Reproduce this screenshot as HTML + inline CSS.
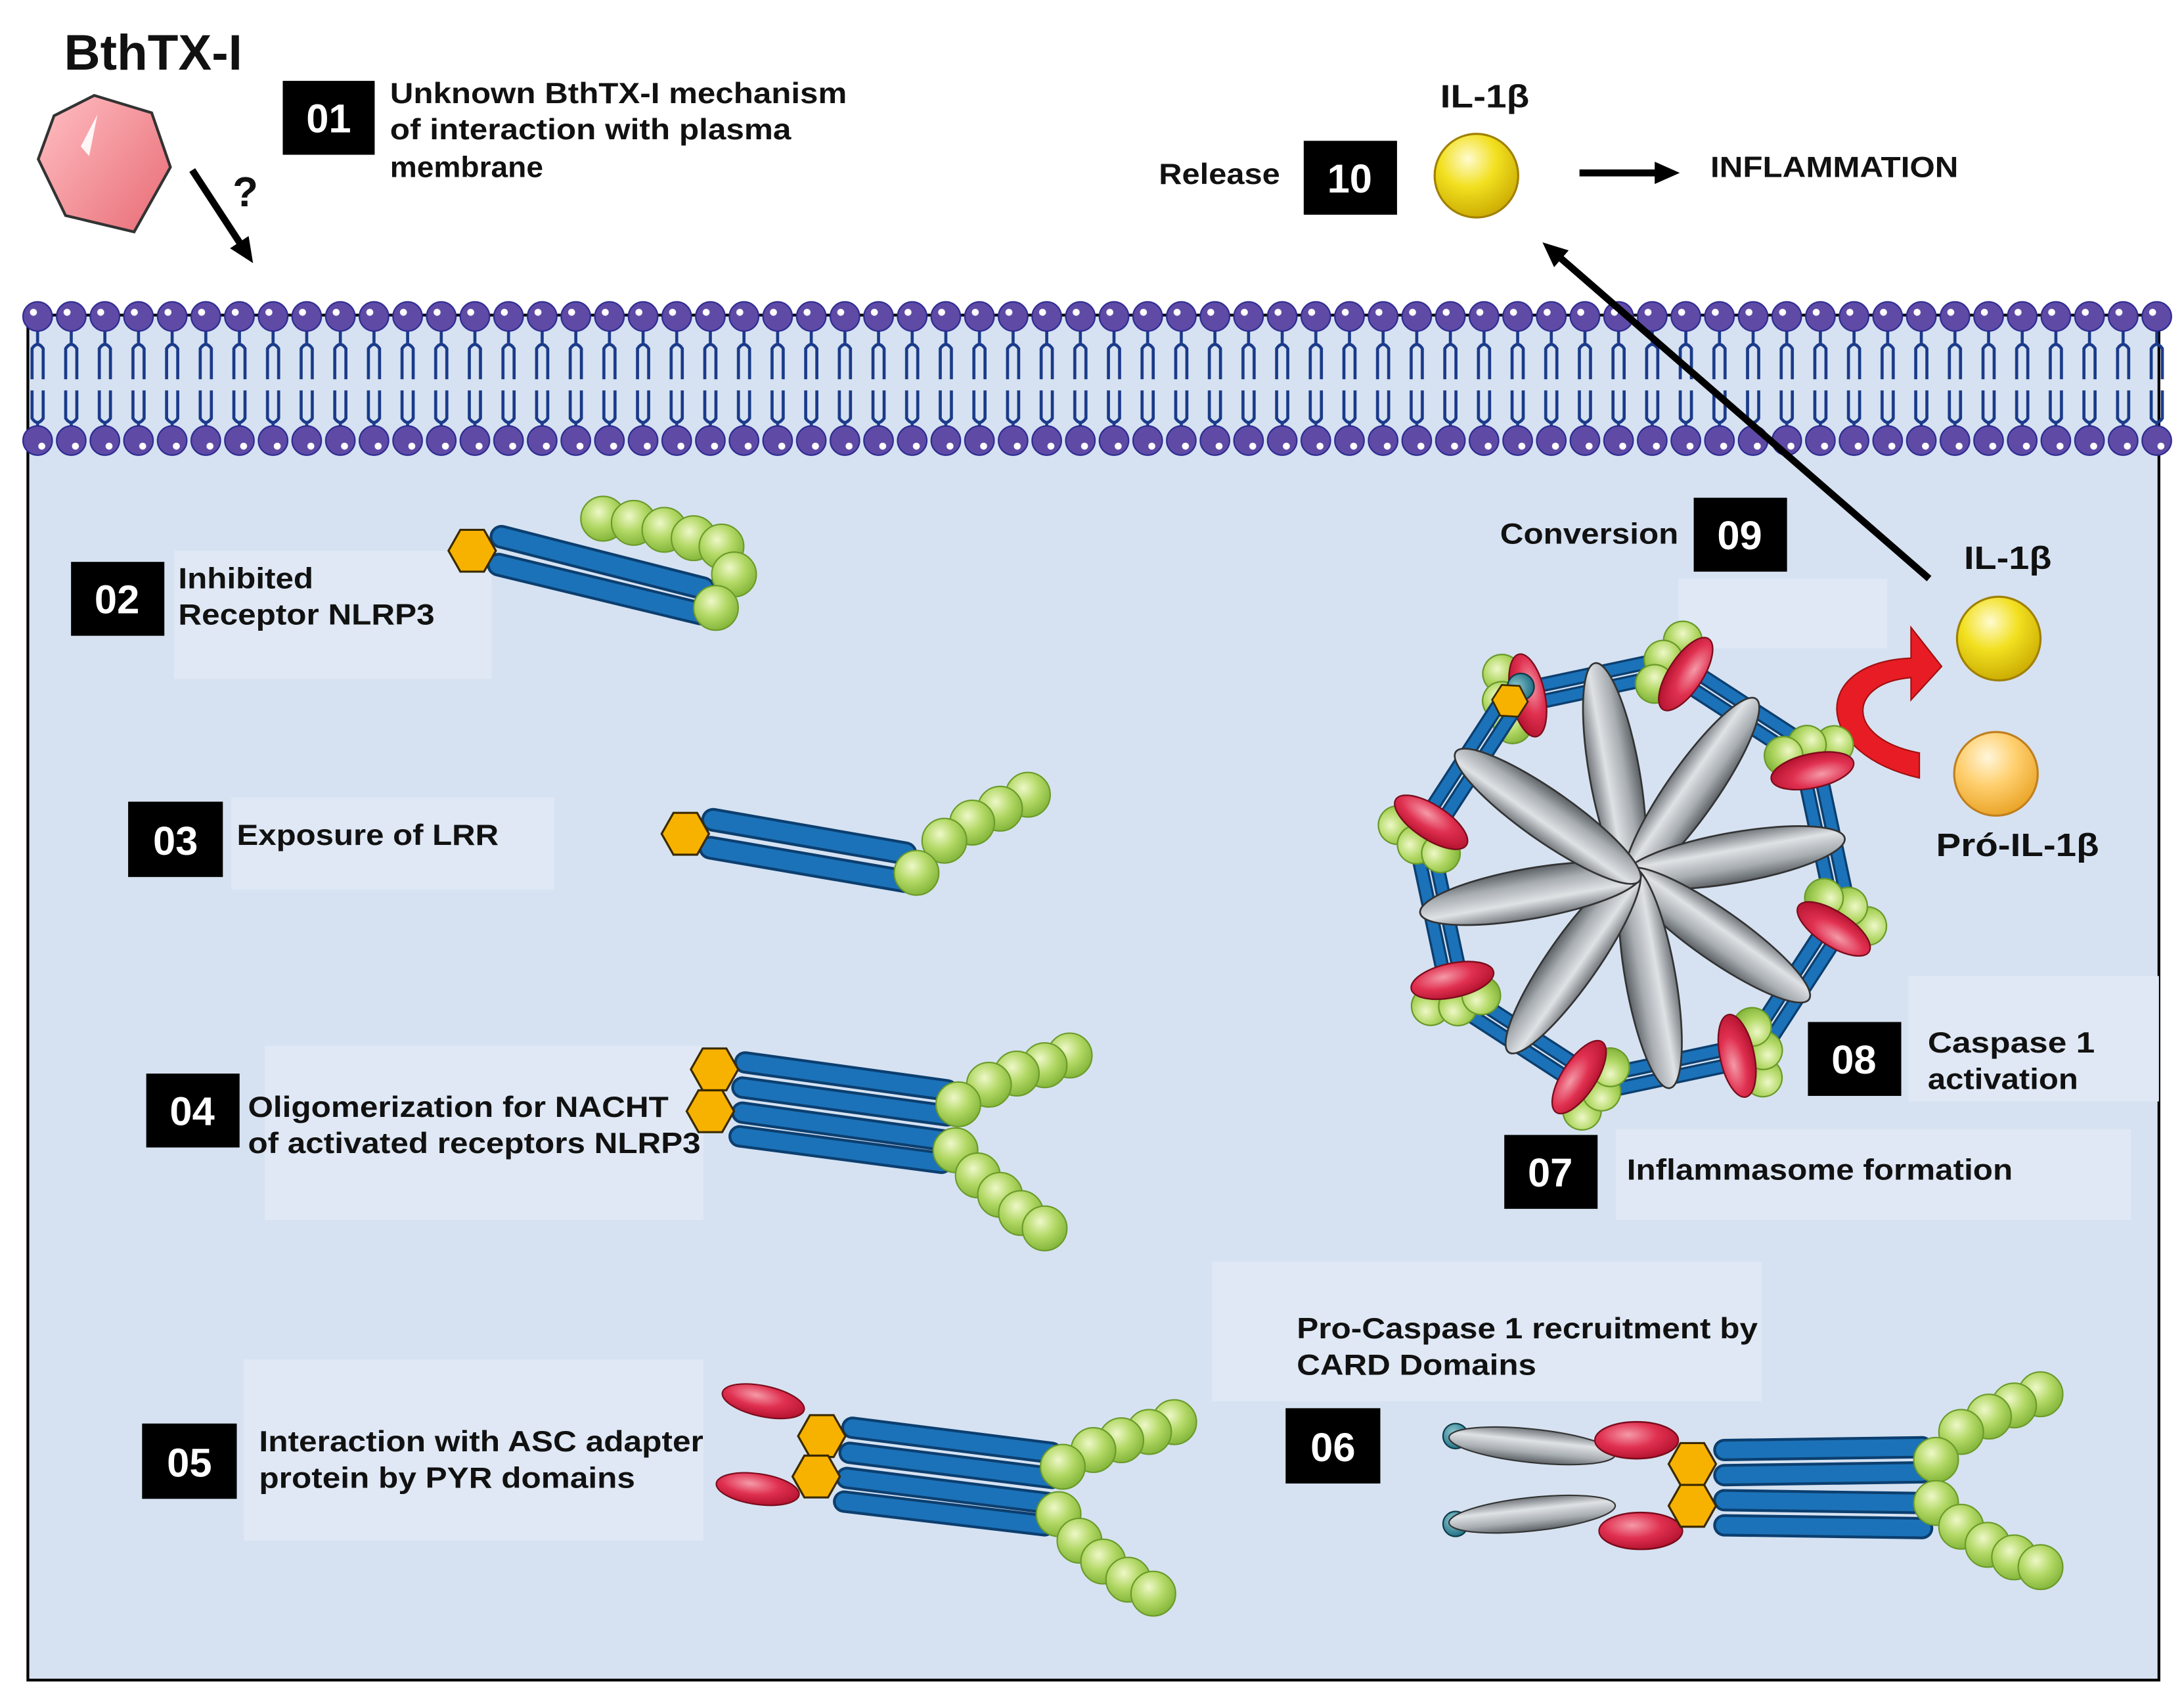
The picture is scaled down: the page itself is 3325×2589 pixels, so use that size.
<!DOCTYPE html>
<html><head><meta charset="utf-8"><style>
html,body{margin:0;padding:0;background:#fff;}
svg{display:block;}
text{font-family:"Liberation Sans",Arial,sans-serif;font-weight:bold;}
</style></head><body>
<svg width="3325" height="2589" viewBox="0 0 1568 1220" preserveAspectRatio="none" xmlns="http://www.w3.org/2000/svg">
<defs>
<radialGradient id="gg" cx="0.4" cy="0.35" r="0.7"><stop offset="0" stop-color="#eef8c8"/><stop offset="0.5" stop-color="#b2d865"/><stop offset="1" stop-color="#7fb236"/></radialGradient>
<radialGradient id="rg" cx="0.4" cy="0.35" r="0.7"><stop offset="0" stop-color="#f49aa8"/><stop offset="0.5" stop-color="#e03050"/><stop offset="1" stop-color="#b0102c"/></radialGradient>
<radialGradient id="yg" cx="0.4" cy="0.3" r="0.75"><stop offset="0" stop-color="#fffbd0"/><stop offset="0.45" stop-color="#f2e020"/><stop offset="1" stop-color="#c8a800"/></radialGradient>
<radialGradient id="og" cx="0.4" cy="0.3" r="0.75"><stop offset="0" stop-color="#fff6dc"/><stop offset="0.45" stop-color="#ffd070"/><stop offset="1" stop-color="#e8a020"/></radialGradient>
<radialGradient id="tg" cx="0.4" cy="0.35" r="0.7"><stop offset="0" stop-color="#8cc8d0"/><stop offset="1" stop-color="#1a6a80"/></radialGradient>
<linearGradient id="greyg" x1="0" y1="0" x2="0" y2="1"><stop offset="0" stop-color="#70757a"/><stop offset="0.35" stop-color="#dfe2e5"/><stop offset="0.7" stop-color="#a8adb2"/><stop offset="1" stop-color="#5a5f64"/></linearGradient>
<linearGradient id="pinkg" x1="0" y1="0" x2="1" y2="1"><stop offset="0" stop-color="#ffc0c4"/><stop offset="1" stop-color="#e86a74"/></linearGradient>
<polygon id="hex" points="-17,0 -8.5,-15 8.5,-15 17,0 8.5,15 -8.5,15" fill="#f7b200" stroke="#3a2a00" stroke-width="1.5"/>
<polygon id="hexs" points="-12,0 -6,-10.5 6,-10.5 12,0 6,10.5 -6,10.5" fill="#f7b200" stroke="#3a2a00" stroke-width="1.2"/>
<circle id="gb" r="16" fill="url(#gg)" stroke="#6a9a2a" stroke-width="1"/>
<circle id="gbs" r="13" fill="url(#gg)" stroke="#6a9a2a" stroke-width="1"/>
<ellipse id="re" rx="30" ry="11" fill="url(#rg)" stroke="#7a0c1c" stroke-width="1"/>
<ellipse id="ge" rx="76" ry="17" fill="url(#greyg)" stroke="#333" stroke-width="1.2"/>
<circle id="tb" r="9" fill="url(#tg)" stroke="#0c3a48" stroke-width="1"/>
<g id="edge">
<g stroke-linecap="round"><line x1="-48" y1="-128" x2="50" y2="-128" stroke="#0c3f70" stroke-width="10"/><line x1="-48" y1="-128" x2="50" y2="-128" stroke="#1b72b8" stroke-width="7"/><line x1="-48" y1="-139" x2="50" y2="-139" stroke="#0c3f70" stroke-width="10"/><line x1="-48" y1="-139" x2="50" y2="-139" stroke="#1b72b8" stroke-width="7"/></g>
<use href="#tb" x="66" y="-133"/><use href="#hexs" x="54" y="-134"/>
<use href="#gbs" x="-58" y="-152"/><use href="#gbs" x="-62" y="-134"/><use href="#gbs" x="-58" y="-117"/>
<use href="#re" transform="translate(-44 -134) rotate(90) scale(0.95 1.05)"/>
</g>
<pattern id="mem" x="15" y="0" width="24.15" height="340" patternUnits="userSpaceOnUse">
<g stroke="#1a3a8a" stroke-width="2.2" fill="none">
<line x1="12" y1="236" x2="12" y2="246"/>
<path d="M8,272 V250 Q12,244 16,250 V272"/>
<path d="M8,280 V300 Q12,306 16,300 V280"/>
<line x1="12" y1="304" x2="12" y2="312"/>
</g>
<circle cx="12" cy="227" r="10.5" fill="#5f4aa6" stroke="#2a2a90" stroke-width="1"/>
<circle cx="9" cy="224" r="2.5" fill="#fff"/>
<circle cx="12" cy="316" r="10.5" fill="#5f4aa6" stroke="#2a2a90" stroke-width="1"/>
<circle cx="15" cy="320" r="2.5" fill="#fff"/>
</pattern>
<marker id="ah" markerWidth="18" markerHeight="16" refX="4" refY="8" orient="auto" markerUnits="userSpaceOnUse"><path d="M0,0 L18,8 L0,16 z" fill="#000"/></marker>
</defs>

<rect x="0" y="0" width="1568" height="1220" fill="#fff"/>
<rect x="20" y="226" width="1530" height="979" fill="#d6e2f1" stroke="#000" stroke-width="2"/>
<rect x="15" y="210" width="1545" height="120" fill="url(#mem)"/>

<g fill="#dfe8f4">
<rect x="125" y="395" width="228" height="92"/>
<rect x="166" y="572" width="232" height="66"/>
<rect x="190" y="750" width="315" height="125"/>
<rect x="175" y="975" width="330" height="130"/>
<rect x="870" y="905" width="395" height="100"/>
<rect x="1160" y="810" width="370" height="65"/>
<rect x="1370" y="700" width="180" height="90"/>
<rect x="1205" y="415" width="150" height="50"/>
</g>

<text x="46" y="50" font-size="36" fill="#111">BthTX-I</text>
<polygon points="72,68 112,84 122,124 92,168 44,152 28,110 42,80" fill="url(#pinkg)" stroke="#333" stroke-width="2" transform="rotate(-5 75 118)"/>
<path d="M58,105 L70,82 L64,112 Z" fill="#fff" opacity="0.9"/>
<line x1="138" y1="122" x2="174" y2="177" stroke="#000" stroke-width="5" marker-end="url(#ah)"/>
<text x="167" y="148" font-size="30" fill="#111">?</text>

<g font-size="21" fill="#111">
<text x="280" y="74" textLength="328" lengthAdjust="spacingAndGlyphs">Unknown BthTX-I mechanism</text>
<text x="280" y="100" textLength="288" lengthAdjust="spacingAndGlyphs">of interaction with plasma</text>
<text x="280" y="127" textLength="110" lengthAdjust="spacingAndGlyphs">membrane</text>
<text x="832" y="132" textLength="87" lengthAdjust="spacingAndGlyphs">Release</text>
<text x="1034" y="77" font-size="23" textLength="64" lengthAdjust="spacingAndGlyphs">IL-1β</text>
<text x="1228" y="127" textLength="178" lengthAdjust="spacingAndGlyphs">INFLAMMATION</text>
<text x="1077" y="390" textLength="128" lengthAdjust="spacingAndGlyphs">Conversion</text>
<text x="1410" y="408" font-size="23" textLength="63" lengthAdjust="spacingAndGlyphs">IL-1β</text>
<text x="1390" y="614" font-size="23" textLength="117" lengthAdjust="spacingAndGlyphs">Pró-IL-1β</text>
<text x="128" y="422" textLength="97" lengthAdjust="spacingAndGlyphs">Inhibited</text>
<text x="128" y="448" textLength="184" lengthAdjust="spacingAndGlyphs">Receptor NLRP3</text>
<text x="170" y="606" textLength="188" lengthAdjust="spacingAndGlyphs">Exposure of LRR</text>
<text x="178" y="801" textLength="302" lengthAdjust="spacingAndGlyphs">Oligomerization for NACHT</text>
<text x="178" y="827" textLength="325" lengthAdjust="spacingAndGlyphs">of activated receptors NLRP3</text>
<text x="186" y="1041" textLength="319" lengthAdjust="spacingAndGlyphs">Interaction with ASC adapter</text>
<text x="186" y="1067" textLength="270" lengthAdjust="spacingAndGlyphs">protein by PYR domains</text>
<text x="931" y="960" textLength="331" lengthAdjust="spacingAndGlyphs">Pro-Caspase 1 recruitment by</text>
<text x="931" y="986" textLength="172" lengthAdjust="spacingAndGlyphs">CARD Domains</text>
<text x="1168" y="846" textLength="277" lengthAdjust="spacingAndGlyphs">Inflammasome formation</text>
<text x="1384" y="755" textLength="120" lengthAdjust="spacingAndGlyphs">Caspase  1</text>
<text x="1384" y="781" textLength="108" lengthAdjust="spacingAndGlyphs">activation</text>
</g>
<g fill="#000">
<rect x="203" y="58" width="66" height="53"/>
<rect x="936" y="101" width="67" height="53"/>
<rect x="1216" y="357" width="67" height="53"/>
<rect x="51" y="403" width="67" height="53"/>
<rect x="92" y="575" width="68" height="54"/>
<rect x="105" y="770" width="67" height="53"/>
<rect x="102" y="1021" width="68" height="54"/>
<rect x="923" y="1010" width="68" height="54"/>
<rect x="1080" y="814" width="67" height="53"/>
<rect x="1298" y="733" width="67" height="53"/>
</g>
<g font-size="29" fill="#fff" text-anchor="middle">
<text x="236" y="95">01</text>
<text x="969" y="138">10</text>
<text x="1249" y="394">09</text>
<text x="84" y="440">02</text>
<text x="126" y="613">03</text>
<text x="138" y="807">04</text>
<text x="136" y="1059">05</text>
<text x="957" y="1048">06</text>
<text x="1113" y="851">07</text>
<text x="1331" y="770">08</text>
</g>

<circle cx="1060" cy="126" r="30" fill="url(#yg)" stroke="#a08000" stroke-width="1.5"/>
<line x1="1134" y1="124" x2="1192" y2="124" stroke="#000" stroke-width="5" marker-end="url(#ah)"/>
<line x1="1385" y1="415" x2="1118" y2="183" stroke="#000" stroke-width="5" marker-end="url(#ah)"/>
<circle cx="1435" cy="458" r="30" fill="url(#yg)" stroke="#a08000" stroke-width="1.5"/>
<circle cx="1433" cy="555" r="30" fill="url(#og)" stroke="#c08020" stroke-width="1.5"/>
<path d="M1378,558 C1300,540 1300,475 1372,472 L1372,450 L1394,478 L1372,502 L1372,486 C1325,490 1325,530 1378,540 Z" fill="#e81c24" stroke="#a01010" stroke-width="1"/>

<!-- 02 -->
<g>
<line x1="360" y1="385" x2="505" y2="422" stroke="#0c3f70" stroke-width="17" stroke-linecap="round"/>
<line x1="360" y1="385" x2="505" y2="422" stroke="#1b72b8" stroke-width="13" stroke-linecap="round"/>
<line x1="358" y1="405" x2="503" y2="440" stroke="#0c3f70" stroke-width="17" stroke-linecap="round"/>
<line x1="358" y1="405" x2="503" y2="440" stroke="#1b72b8" stroke-width="13" stroke-linecap="round"/>
<use href="#gb" x="433" y="372"/><use href="#gb" x="455" y="375"/><use href="#gb" x="477" y="380"/><use href="#gb" x="498" y="386"/><use href="#gb" x="518" y="392"/><use href="#gb" x="527" y="412"/><use href="#gb" x="514" y="436"/>
<use href="#hex" x="339" y="395"/>
</g>

<!-- 03 -->
<g>
<line x1="512" y1="588" x2="650" y2="612" stroke="#0c3f70" stroke-width="17" stroke-linecap="round"/>
<line x1="512" y1="588" x2="650" y2="612" stroke="#1b72b8" stroke-width="13" stroke-linecap="round"/>
<line x1="510" y1="608" x2="650" y2="632" stroke="#0c3f70" stroke-width="17" stroke-linecap="round"/>
<line x1="510" y1="608" x2="650" y2="632" stroke="#1b72b8" stroke-width="13" stroke-linecap="round"/>
<use href="#gb" x="738" y="570"/><use href="#gb" x="718" y="580"/><use href="#gb" x="698" y="590"/><use href="#gb" x="678" y="603"/><use href="#gb" x="658" y="626"/>
<use href="#hex" x="492" y="598"/>
</g>

<!-- 04 -->
<g>
<g stroke-linecap="round">
<line x1="535" y1="762" x2="680" y2="782" stroke="#0c3f70" stroke-width="16"/><line x1="535" y1="762" x2="680" y2="782" stroke="#1b72b8" stroke-width="12"/>
<line x1="533" y1="780" x2="680" y2="800" stroke="#0c3f70" stroke-width="16"/><line x1="533" y1="780" x2="680" y2="800" stroke="#1b72b8" stroke-width="12"/>
<line x1="533" y1="798" x2="678" y2="818" stroke="#0c3f70" stroke-width="16"/><line x1="533" y1="798" x2="678" y2="818" stroke="#1b72b8" stroke-width="12"/>
<line x1="531" y1="815" x2="676" y2="834" stroke="#0c3f70" stroke-width="16"/><line x1="531" y1="815" x2="676" y2="834" stroke="#1b72b8" stroke-width="12"/>
</g>
<use href="#gb" x="768" y="757"/><use href="#gb" x="750" y="764"/><use href="#gb" x="730" y="770"/><use href="#gb" x="710" y="778"/><use href="#gb" x="688" y="792"/>
<use href="#gb" x="686" y="825"/><use href="#gb" x="702" y="843"/><use href="#gb" x="718" y="857"/><use href="#gb" x="733" y="870"/><use href="#gb" x="750" y="881"/>
<use href="#hex" x="513" y="767"/><use href="#hex" x="510" y="797"/>
</g>

<!-- 05 -->
<g>
<g stroke-linecap="round">
<line x1="612" y1="1024" x2="755" y2="1042" stroke="#0c3f70" stroke-width="16"/><line x1="612" y1="1024" x2="755" y2="1042" stroke="#1b72b8" stroke-width="12"/>
<line x1="610" y1="1042" x2="755" y2="1060" stroke="#0c3f70" stroke-width="16"/><line x1="610" y1="1042" x2="755" y2="1060" stroke="#1b72b8" stroke-width="12"/>
<line x1="608" y1="1060" x2="752" y2="1078" stroke="#0c3f70" stroke-width="16"/><line x1="608" y1="1060" x2="752" y2="1078" stroke="#1b72b8" stroke-width="12"/>
<line x1="606" y1="1077" x2="750" y2="1094" stroke="#0c3f70" stroke-width="16"/><line x1="606" y1="1077" x2="750" y2="1094" stroke="#1b72b8" stroke-width="12"/>
</g>
<use href="#gb" x="843" y="1020"/><use href="#gb" x="825" y="1027"/><use href="#gb" x="805" y="1033"/><use href="#gb" x="785" y="1040"/><use href="#gb" x="763" y="1052"/>
<use href="#gb" x="760" y="1086"/><use href="#gb" x="775" y="1105"/><use href="#gb" x="792" y="1120"/><use href="#gb" x="810" y="1133"/><use href="#gb" x="828" y="1143"/>
<use href="#re" transform="translate(548 1005) rotate(12)"/>
<use href="#re" transform="translate(544 1068) rotate(8)"/>
<use href="#hex" x="590" y="1030"/><use href="#hex" x="586" y="1059"/>
</g>

<!-- 06 -->
<g>
<g stroke-linecap="round">
<line x1="1238" y1="1040" x2="1380" y2="1038" stroke="#0c3f70" stroke-width="16"/><line x1="1238" y1="1040" x2="1380" y2="1038" stroke="#1b72b8" stroke-width="12"/>
<line x1="1238" y1="1058" x2="1380" y2="1056" stroke="#0c3f70" stroke-width="16"/><line x1="1238" y1="1058" x2="1380" y2="1056" stroke="#1b72b8" stroke-width="12"/>
<line x1="1238" y1="1076" x2="1380" y2="1078" stroke="#0c3f70" stroke-width="16"/><line x1="1238" y1="1076" x2="1380" y2="1078" stroke="#1b72b8" stroke-width="12"/>
<line x1="1238" y1="1094" x2="1380" y2="1096" stroke="#0c3f70" stroke-width="16"/><line x1="1238" y1="1094" x2="1380" y2="1096" stroke="#1b72b8" stroke-width="12"/>
</g>
<use href="#gb" x="1465" y="1000"/><use href="#gb" x="1446" y="1008"/><use href="#gb" x="1428" y="1016"/><use href="#gb" x="1408" y="1027"/><use href="#gb" x="1390" y="1047"/>
<use href="#gb" x="1390" y="1078"/><use href="#gb" x="1408" y="1095"/><use href="#gb" x="1427" y="1108"/><use href="#gb" x="1446" y="1117"/><use href="#gb" x="1465" y="1124"/>
<use href="#tb" x="1045" y="1030"/><use href="#tb" x="1045" y="1093"/>
<ellipse cx="1100" cy="1037" rx="60" ry="12" fill="url(#greyg)" stroke="#333" transform="rotate(6 1100 1037)"/>
<ellipse cx="1100" cy="1086" rx="60" ry="12" fill="url(#greyg)" stroke="#333" transform="rotate(-6 1100 1086)"/>
<use href="#re" transform="translate(1175 1033) scale(1 1.2)"/>
<use href="#re" transform="translate(1178 1098) scale(1 1.2)"/>
<use href="#hex" x="1215" y="1050"/><use href="#hex" x="1215" y="1080"/>
</g>

<!-- inflammasome -->
<g transform="translate(1172 628) scale(1.06)">
<g transform="rotate(-12)">
 <use href="#edge"/>
 <use href="#edge" transform="rotate(45)"/>
 <use href="#edge" transform="rotate(90)"/>
 <use href="#edge" transform="rotate(135)"/>
 <use href="#edge" transform="rotate(180)"/>
 <use href="#edge" transform="rotate(225)"/>
 <use href="#edge" transform="rotate(270)"/>
 <use href="#edge" transform="rotate(315)"/>
</g>
<g transform="rotate(-100)">
 <use href="#ge" transform="rotate(0) translate(70 0)"/>
 <use href="#ge" transform="rotate(45) translate(70 0)"/>
 <use href="#ge" transform="rotate(90) translate(70 0)"/>
 <use href="#ge" transform="rotate(135) translate(70 0)"/>
 <use href="#ge" transform="rotate(180) translate(70 0)"/>
 <use href="#ge" transform="rotate(225) translate(70 0)"/>
 <use href="#ge" transform="rotate(270) translate(70 0)"/>
 <use href="#ge" transform="rotate(315) translate(70 0)"/>
</g>
</g>
</svg>
</body></html>
